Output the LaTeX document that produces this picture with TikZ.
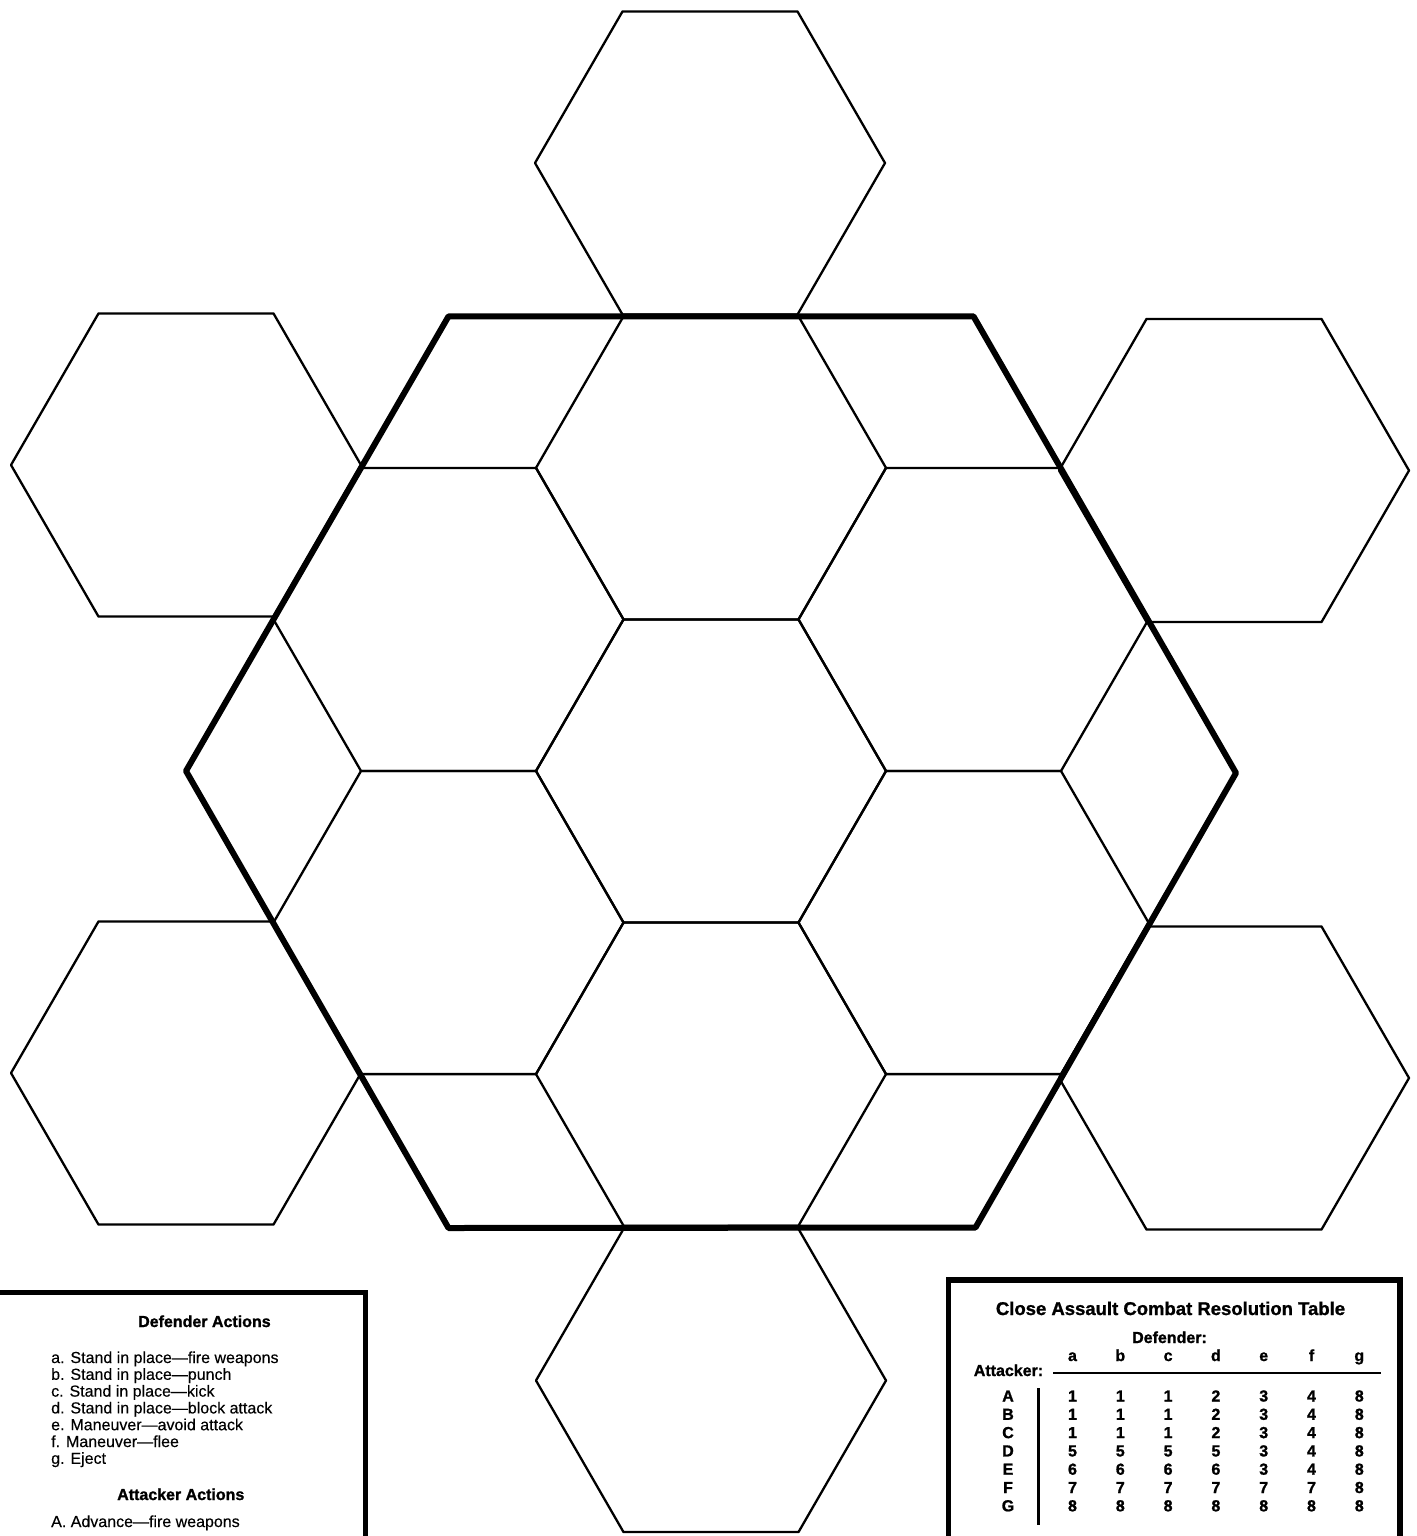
\documentclass[tikz,border=0pt]{standalone}
\usepackage{fontspec}
\setmainfont{Liberation Sans}[UprightFeatures={FakeBold=0.3}, BoldFeatures={FakeBold=1.2}]
\begin{document}
\begin{tikzpicture}[x=1pt,y=-1pt,
  thinhex/.style={line width=2.3pt, line join=round},
  border/.style={line width=6pt, line join=round},
  boxframe/.style={line width=5.5pt, fill=white},
  rule/.style={line width=2.6pt},
  listtext/.style={anchor=base west, inner sep=0pt, font=\fontsize{16}{19}\selectfont},
  listhead/.style={anchor=base west, inner sep=0pt, font=\bfseries\fontsize{16}{19}\selectfont},
  titletext/.style={anchor=base, inner sep=0pt, font=\bfseries\fontsize{18.5}{22}\selectfont},
  cell/.style={anchor=base, inner sep=0pt, font=\bfseries\fontsize{16}{18}\selectfont}
]
\useasboundingbox (0,0) rectangle (1416,1536);
\clip (0,0) rectangle (1416,1536);

% hexagons: central cluster and the six outer cells
\foreach \cx/\cy in {711/771, 711/467.9, 711/1074.1, 448.5/619.45, 973.5/619.45,
                     448.5/922.55, 973.5/922.55,
                     710/163, 186/465, 1234/470.5, 186/1073, 1234/1078, 711/1380.5}
  \draw[thinhex] (\cx,\cy) ++(175,0) -- ++(-87.5,151.55) -- ++(-175,0)
      -- ++(-87.5,-151.55) -- ++(87.5,-151.55) -- ++(175,0) -- cycle;

% thick outline
\draw[border] (186,771) -- (448.5,316.35) -- (973.5,316.35) -- (1236,773)
      -- (975.5,1227.5) -- (448.5,1228) -- cycle;

% left box: action lists
\draw[boxframe] (-20,1292.5) rectangle (365.5,1570);
\node[listhead] (defhead) at (138,1327) {Defender Actions};
\foreach \t [count=\i from 0] in {a. Stand in place—fire weapons, b. Stand in place—punch,
    c. Stand in place—kick, d. Stand in place—block attack, e. Maneuver—avoid attack,
    f. Maneuver—flee, g. Eject}
  \node[listtext] (def\i) at (51,{1363+16.8*\i}) {\t};
\node[listhead] (atthead) at (117,1500) {Attacker Actions};
\node[listtext] (att0) at (51,1527) {A. Advance—fire weapons};

% right box: resolution table
\draw[boxframe] (948.5,1280) rectangle (1400,1570);
\node[titletext] (title) at (1170.5,1315) {Close Assault Combat Resolution Table};
\node[cell] (defender) at (1169.5,1343) {Defender:};
\node[cell] (attacker) at (1008.5,1376) {Attacker:};
\foreach \h [count=\j from 0] in {a,b,c,d,e,f,g}
  \node[cell] (h\h) at ({1072.5+47.8*\j},1361) {\h};
\coordinate (hl1) at (1053,1373);
\coordinate (hl2) at (1381,1373);
\draw[rule] (hl1) -- (hl2);
\coordinate (vl1) at (1038,1388);
\coordinate (vl2) at (1038,1525);
\draw[line width=3pt] (vl1) -- (vl2);
\foreach \lab/\vals [count=\i from 0] in {A/{1,1,1,2,3,4,8}, B/{1,1,1,2,3,4,8},
    C/{1,1,1,2,3,4,8}, D/{5,5,5,5,3,4,8}, E/{6,6,6,6,3,4,8}, F/{7,7,7,7,7,7,8},
    G/{8,8,8,8,8,8,8}} {
  \node[cell] (row\lab) at (1008,{1401.5+18.3*\i}) {\lab};
  \foreach \v [count=\j from 0] in \vals
    \node[cell] (v\lab\j) at ({1072.5+47.8*\j},{1401.5+18.3*\i}) {\v};
}
\end{tikzpicture}
\end{document}
